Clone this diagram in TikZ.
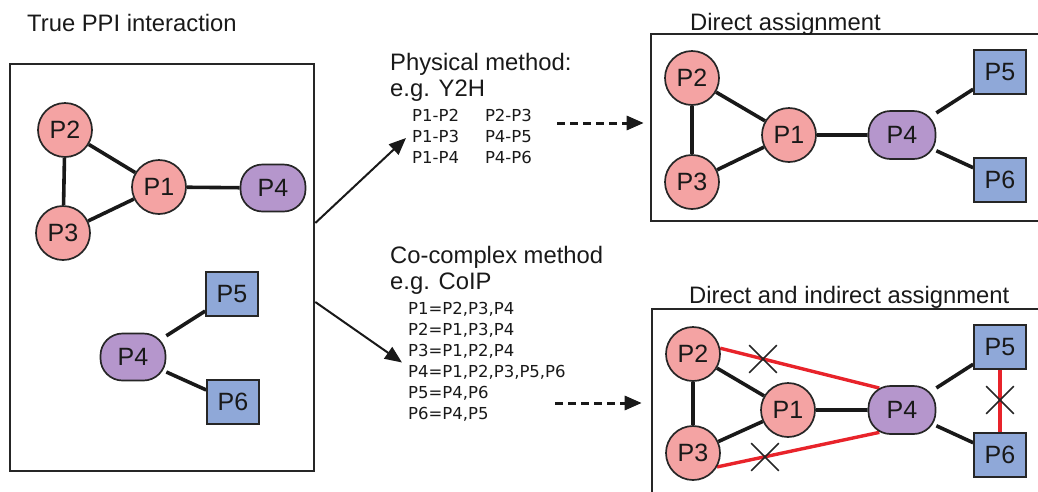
\documentclass[tikz,border=0pt]{standalone}
\usepackage{fontspec}
\setmainfont{Liberation Sans}
\newfontfamily\listfont{DejaVu Sans}
\usepackage{xcolor}
\usetikzlibrary{arrows.meta, shapes.misc, backgrounds}
\definecolor{protpink}{HTML}{F4A3A3}
\definecolor{protpurple}{HTML}{B596CC}
\definecolor{protblue}{HTML}{8FA8D8}
\definecolor{linkred}{HTML}{E8232A}
\newcommand{\headsize}{\fontsize{23.8}{26}\selectfont}
\newcommand{\protsize}{\fontsize{25}{25}\selectfont}
\newcommand{\listsize}{\listfont\fontsize{16.5}{21}\selectfont}
\tikzset{
  prot/.style={draw=black!85, line width=1.7pt, font=\protsize, inner sep=0pt, text=black!90},
  pinkprot/.style={prot, circle, fill=protpink, minimum size=54pt},
  purpleprot/.style={prot, rectangle, rounded corners=22pt, fill=protpurple, minimum width=67pt, minimum height=48pt},
  blueprot/.style={prot, rectangle, fill=protblue, minimum width=52pt, minimum height=44pt},
  link/.style={line width=3.6pt, black!90},
  redlink/.style={line width=3.4pt, linkred},
  xmark/.style={cross out, draw=black!85, line width=1.7pt, minimum size=26pt, inner sep=0pt},
  panel/.style={draw=black!85, line width=2.6pt, inner sep=0pt},
  head/.style={font=\headsize, text=black!90, inner sep=0pt},
  pairs/.style={font=\listsize, text=black!90, inner sep=0pt},
  flowarrow/.style={-{Triangle[length=17pt,width=14pt]}, line width=2pt, black!90},
  dasharrow/.style={-{Triangle[length=17pt,width=14pt]}, line width=3pt, dash pattern=on 8pt off 5pt, black!90},
}
\begin{document}
\begin{tikzpicture}[x=1pt, y=-1pt]
	\useasboundingbox (0,0) rectangle (1038,491);
	% frames (right-hand ones run off the page)
	\begin{scope}
		\clip (0,0) rectangle (1038,491);
		\node[panel, minimum width=304pt, minimum height=407pt] (truebox) at (162,267.5) {};
		\node[panel, minimum width=400pt, minimum height=187pt] (directbox) at (851,127.5) {};
		\node[panel, minimum width=400pt, minimum height=200pt] (indirbox) at (852,409) {};
	\end{scope}
	% titles
	\node[head, anchor=base west] (truetitle) at (27,31.5) {True PPI interaction};
	\node[head, anchor=base west] (directtitle) at (690,30.5) {Direct assignment};
	\node[head, anchor=base west] (indirtitle) at (689,303.5) {Direct and indirect assignment};
	\node[head, anchor=north west, align=left] (physhead) at (390,53.2) {Physical method:\\e.g. Y2H};
	\node[head, anchor=north west, align=left] (cplxhead) at (390,246.2) {Co-complex method\\e.g. CoIP};
	% observed pairs
	\node[pairs, anchor=north west] (physlist) at (412,106.3) {\begin{tabular}{@{}l@{\hspace{26pt}}l@{}}
		P1-P2 & P2-P3\\ P1-P3 & P4-P5\\ P1-P4 & P4-P6
	\end{tabular}};
	\node[pairs, anchor=north west] (cplxlist) at (408,299.3) {\begin{tabular}{@{}l@{}}
		P1=P2,P3,P4\\ P2=P1,P3,P4\\ P3=P1,P2,P4\\ P4=P1,P2,P3,P5,P6\\ P5=P4,P6\\ P6=P4,P5
	\end{tabular}};
	% true interactions
	\node[pinkprot] (lP2) at (65,130) {P2};
	\node[pinkprot] (lP3) at (63,233) {P3};
	\node[pinkprot] (lP1) at (159,187) {P1};
	\node[purpleprot, minimum width=65pt, minimum height=47pt] (lP4) at (273,188) {P4};
	\node[purpleprot, minimum width=65pt, minimum height=47pt] (lP4b) at (133,357) {P4};
	\node[blueprot] (lP5) at (232,294) {P5};
	\node[blueprot] (lP6) at (233,402) {P6};
	% direct assignment
	\node[pinkprot] (tP2) at (692,78) {P2};
	\node[pinkprot] (tP3) at (692,182) {P3};
	\node[pinkprot] (tP1) at (789,135) {P1};
	\node[purpleprot] (tP4) at (902,135) {P4};
	\node[blueprot] (tP5) at (1000,72) {P5};
	\node[blueprot] (tP6) at (1000,180) {P6};
	% direct and indirect assignment
	\node[pinkprot] (bP2) at (693,354) {P2};
	\node[pinkprot] (bP3) at (693,453) {P3};
	\node[pinkprot] (bP1) at (788,410) {P1};
	\node[purpleprot] (bP4) at (902,410) {P4};
	\node[blueprot] (bP5) at (1000,347) {P5};
	\node[blueprot] (bP6) at (1000,455) {P6};
	% links
	\begin{scope}[on background layer]
		\draw[link] (lP2) -- (lP3) (lP2) -- (lP1) (lP3) -- (lP1) (lP1) -- (lP4);
		\draw[link] (lP4b) -- (lP5) (lP4b) -- (lP6);
		\draw[link] (tP2) -- (tP3) (tP2) -- (tP1) (tP3) -- (tP1) (tP1) -- (tP4) (tP4) -- (tP5) (tP4) -- (tP6);
		\draw[link] (bP2) -- (bP3) (bP2) -- (bP1) (bP3) -- (bP1) (bP1) -- (bP4) (bP4) -- (bP5) (bP4) -- (bP6);
		\draw[redlink, shorten >=-12pt] (bP2.12) -- (bP4.north west);
		\draw[redlink, shorten >=-12pt] (bP3.-30) -- (bP4.south west);
		\draw[redlink] (bP5) -- (bP6);
	\end{scope}
	% false links
	\node[xmark] (cut24) at (763,359) {};
	\node[xmark] (cut34) at (765,457) {};
	\node[xmark] (cut56) at (1000,400) {};
	% arrows
	\draw[flowarrow] ([yshift=44.5pt]truebox.east) -- ([xshift=-6pt]physlist.west);
	\draw[flowarrow] ([yshift=-34.5pt]truebox.east) -- ([xshift=-6pt]cplxlist.west);
	\coordinate (physout) at (557,123);
	\coordinate (cplxout) at (555,403);
	\draw[dasharrow, shorten >=6pt] (physout) -- (physout -| directbox.west);
	\draw[dasharrow, shorten >=9pt] (cplxout) -- (cplxout -| indirbox.west);
\end{tikzpicture}
\end{document}
